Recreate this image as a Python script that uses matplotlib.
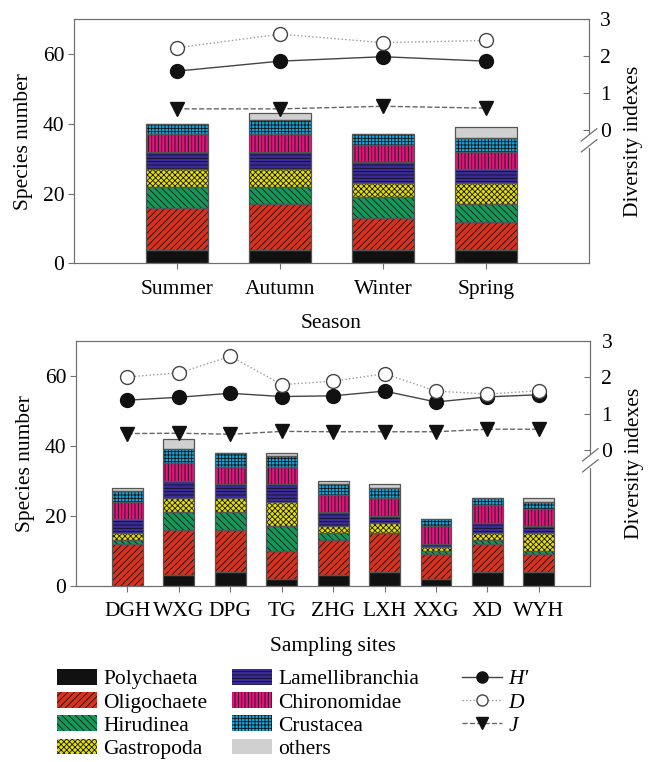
import numpy as np
import matplotlib.pyplot as plt
from matplotlib.patches import Patch
from matplotlib.lines import Line2D

plt.rcParams["font.family"] = ["Liberation Serif", "DejaVu Serif"]
plt.rcParams["font.size"] = 15.5
plt.rcParams["hatch.linewidth"] = 0.6

groups = ["Polychaeta", "Oligochaete", "Hirudinea", "Gastropoda",
          "Lamellibranchia", "Chironomidae", "Crustacea", "others"]
colors = ["#111111", "#d8321e", "#12995a", "#e6e000",
          "#3b2b9c", "#e0147e", "#15a6dc", "#d0d0d0"]
hatches = [None, "/////", "\\\\\\\\\\", "xxxxxx", "-----", "|||||", "+++++", None]

seasons = ["Summer", "Autumn", "Winter", "Spring"]
season_counts = np.array([
    [4, 12, 6, 5, 5, 5, 3, 0],
    [4, 13, 5, 5, 5, 5, 4, 2],
    [4, 9, 6, 4, 6, 5, 3, 0],
    [4, 8, 5, 6, 4, 5, 4, 3],
])
season_H = [1.59, 1.86, 1.98, 1.86]
season_D = [2.22, 2.59, 2.36, 2.42]
season_J = [0.57, 0.57, 0.64, 0.59]

sites = ["DGH", "WXG", "DPG", "TG", "ZHG", "LXH", "XXG", "XD", "WYH"]
site_counts = np.array([
    [0, 12, 1, 2, 4, 5, 3, 1],
    [3, 13, 5, 4, 5, 5, 4, 3],
    [4, 12, 5, 4, 4, 5, 4, 0],
    [2, 8, 7, 7, 5, 5, 3, 1],
    [3, 10, 2, 2, 4, 5, 3, 1],
    [4, 11, 0, 3, 2, 5, 3, 1],
    [2, 7, 1, 1, 1, 5, 2, 0],
    [4, 8, 1, 2, 3, 5, 2, 0],
    [4, 5, 1, 5, 2, 5, 2, 1],
])
site_H = [1.37, 1.45, 1.56, 1.47, 1.49, 1.62, 1.32, 1.46, 1.52]
site_D = [2.01, 2.12, 2.58, 1.80, 1.89, 2.10, 1.62, 1.54, 1.63]
site_J = [0.45, 0.46, 0.43, 0.51, 0.50, 0.50, 0.50, 0.57, 0.57]

spine_c = "#707070"


def panel(rect, names, counts, H, D, J, xlabel, ylim2):
    ax = fig.add_axes(rect)
    x = np.arange(len(names))
    # hatched fills (hatch colour comes from edgecolor, so no outline here)
    bottom = np.zeros(len(names))
    for k in range(len(groups)):
        ax.bar(x, counts[:, k], 0.6, bottom=bottom, color=colors[k],
               hatch=hatches[k], edgecolor="#111111", linewidth=0)
        bottom += counts[:, k]
    # grey outlines on top
    b = np.zeros(len(names))
    for k in range(len(groups)):
        ax.bar(x, counts[:, k], 0.6, bottom=b, fill=False,
               edgecolor="#555555", linewidth=0.9)
        b += counts[:, k]
    ax.set_xlim(-1, len(names))
    ax.set_ylim(0, 70)
    ax.set_yticks([0, 20, 40, 60])
    ax.set_xticks(x)
    ax.set_xticklabels(names)
    ax.set_xlabel(xlabel, labelpad=11)
    ax.set_ylabel("Species number", labelpad=7)
    ax.tick_params(axis="x", length=4, pad=8, color=spine_c)
    ax.tick_params(axis="y", length=4, pad=3, color=spine_c)
    for s in ax.spines.values():
        s.set_color(spine_c)

    ax2 = ax.twinx()
    ax2.plot(x, H, "-", color="#444444", lw=1, marker="o", ms=10,
             mfc="#111111", mec="#111111")
    ax2.plot(x, D, ":", color="#999999", lw=1, marker="o", ms=10,
             mfc="white", mec="#444444", mew=1)
    ax2.plot(x, J, "--", color="#666666", lw=1, marker="v", ms=9.5,
             mfc="#111111", mec="#111111")
    ax2.set_ylim(*ylim2)
    ax2.set_yticks([0, 1, 2, 3])
    ax2.set_ylabel("Diversity indexes", labelpad=9)
    ax2.tick_params(axis="y", direction="in", length=4, pad=8, color=spine_c)
    for s in ax2.spines.values():
        s.set_color(spine_c)
    # break marks on the right axis just below 0
    y0 = (0 - ylim2[0]) / (ylim2[1] - ylim2[0])
    dy = 0.05
    ax2.plot([1, 1], [y0 - 0.065, y0 - 0.025], color="white", lw=3,
             transform=ax2.transAxes, clip_on=False, zorder=5)
    for off in (-0.02, -0.065):
        ax2.plot([0.985, 1.015], [y0 + off - dy / 2, y0 + off + dy / 2],
                 color=spine_c, lw=0.9, transform=ax2.transAxes,
                 clip_on=False, zorder=6)
    return ax, ax2


fig = plt.figure(figsize=(6.48, 7.62), dpi=100)
panel([0.1142, 0.6542, 0.7948, 0.3209], seasons, season_counts,
      season_H, season_D, season_J, "Season", (-3.61, 3))
panel([0.1173, 0.2314, 0.7937, 0.3211], sites, site_counts,
      site_H, site_D, site_J, "Sampling sites", (-3.74, 3))

patches = [Patch(facecolor=c, hatch=h, edgecolor="#111111", linewidth=0)
           for c, h in zip(colors, hatches)]
lines = [
    Line2D([], [], ls="-", color="#444444", lw=1, marker="o", ms=8,
           mfc="#111111", mec="#111111"),
    Line2D([], [], ls=":", color="#999999", lw=1, marker="o", ms=8,
           mfc="white", mec="#444444"),
    Line2D([], [], ls="--", color="#666666", lw=1, marker="v", ms=8,
           mfc="#111111", mec="#111111"),
]
leg_kw = dict(loc="upper left", frameon=False, handlelength=1.85,
              handleheight=0.75, labelspacing=0.13, handletextpad=0.3,
              borderaxespad=0, borderpad=0)
fig.legend(patches[:4], groups[:4], bbox_to_anchor=(0.088, 0.122), **leg_kw)
fig.legend(patches[4:], groups[4:], bbox_to_anchor=(0.358, 0.122), **leg_kw)
leg3 = fig.legend(lines, ["H'", "D", "J"],
                  bbox_to_anchor=(0.713, 0.122), **leg_kw)
for t in leg3.get_texts():
    t.set_style("italic")

fig.savefig("out.png", dpi=100)
